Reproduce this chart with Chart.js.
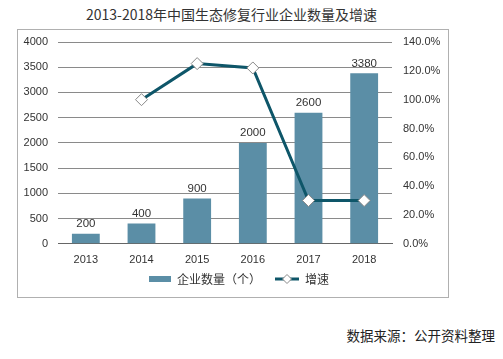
<!DOCTYPE html>
<html>
<head>
<meta charset="utf-8">
<script src="https://cdn.jsdelivr.net/npm/chart.js@4"></script>
<style>
  body { margin: 0; background: #fff; width: 503px; height: 359px; position: relative; overflow: hidden; }
  #title { position: absolute; top: 4px; left: 0; width: 463px; text-align: center; font: 14px "Noto Sans CJK SC", sans-serif; color: #333; }
  #frame { position: absolute; left: 17px; top: 29px; width: 430px; height: 267px; border: 1px solid #b0b0b0; }
  #source { position: absolute; top: 325px; right: 8px; font: 13.5px "Noto Sans CJK SC", sans-serif; color: #222; }
</style>
</head>
<body>
<div id="title">2013-2018年中国生态修复行业企业数量及增速</div>
<div id="frame"><canvas id="myChart" width="430" height="267"></canvas></div>
<div id="source">数据来源：公开资料整理</div>
<script>
const years = ['2013', '2014', '2015', '2016', '2017', '2018'];
const companyCount = [200, 400, 900, 2000, 2600, 3380];
const growthRate = [null, 100, 125, 122, 30, 30];

const barColor = '#5b8ea6';
const lineColor = '#0e5669';

// legend swatches, same canvas width so spacing works out
function barSwatch() {
    const c = document.createElement('canvas');
    c.width = 34; c.height = 6;
    const g = c.getContext('2d');
    g.fillStyle = barColor;
    g.fillRect(12, 0, 22, 6);
    return c;
}
function lineSwatch() {
    const c = document.createElement('canvas');
    c.width = 34; c.height = 12;
    const g = c.getContext('2d');
    g.strokeStyle = lineColor;
    g.lineWidth = 3;
    g.beginPath(); g.moveTo(10, 6); g.lineTo(34, 6); g.stroke();
    g.fillStyle = '#fff';
    g.strokeStyle = '#888';
    g.lineWidth = 1;
    g.beginPath(); g.moveTo(22, 1.5); g.lineTo(26.5, 6); g.lineTo(22, 10.5); g.lineTo(17.5, 6); g.closePath();
    g.fill(); g.stroke();
    return c;
}

const barLabels = {
    id: 'barLabels',
    afterDatasetsDraw(chart) {
        const ctx = chart.ctx;
        const meta = chart.getDatasetMeta(1);
        ctx.save();
        ctx.font = '11.5px "Liberation Sans", Arial, sans-serif';
        ctx.fillStyle = '#333';
        ctx.textAlign = 'center';
        ctx.textBaseline = 'bottom';
        meta.data.forEach((bar, i) => {
            ctx.fillText(companyCount[i], bar.x, bar.y - 4);
        });
        ctx.restore();
    }
};

const tickFont = { family: '"Liberation Sans", Arial, sans-serif', size: 11 };

const ctx = document.getElementById('myChart').getContext('2d');
const chart = new Chart(ctx, {
    type: 'bar',
    data: {
        labels: years,
        datasets: [{
            type: 'line',
            label: '增速',
            data: growthRate,
            yAxisID: 'y1',
            borderColor: lineColor,
            borderWidth: 3,
            pointStyle: 'rectRot',
            pointRadius: 6,
            pointBackgroundColor: '#fff',
            pointBorderColor: '#888',
            pointBorderWidth: 1,
            order: 0
        }, {
            label: '企业数量（个）',
            data: companyCount,
            backgroundColor: barColor,
            barPercentage: 0.5,
            categoryPercentage: 1,
            yAxisID: 'y',
            order: 1
        }]
    },
    options: {
        responsive: false,
        animation: false,
        layout: { autoPadding: false, padding: { top: 12, left: 0, right: 0, bottom: 2 } },
        plugins: {
            tooltip: { enabled: false },
            legend: {
                position: 'bottom',
                labels: {
                    usePointStyle: true,
                    pointStyleWidth: 34,
                    color: '#333',
                    font: { family: '"Noto Sans CJK SC", sans-serif', size: 12 },
                    padding: 4,
                    generateLabels(chart) {
                        return [
                            { text: '企业数量（个）', pointStyle: barSwatch(), fontColor: '#333', datasetIndex: 1, lineWidth: 0 },
                            { text: '增速', pointStyle: lineSwatch(), fontColor: '#333', datasetIndex: 0, lineWidth: 0 }
                        ];
                    }
                }
            }
        },
        scales: {
            x: {
                grid: { display: false },
                border: { color: '#666' },
                ticks: { color: '#333', font: tickFont, padding: 2 }
            },
            y: {
                position: 'left',
                min: 0, max: 4000,
                ticks: { stepSize: 500, color: '#333', font: tickFont, padding: 10, callback: v => String(v) },
                grid: { color: '#8a8a8a', drawTicks: false },
                border: { display: false },
                afterFit(scale) { scale.width = 40; scale.paddingTop = 0; scale.paddingBottom = 0; }
            },
            y1: {
                position: 'right',
                min: 0, max: 140,
                ticks: {
                    stepSize: 20, color: '#333', font: tickFont, padding: 11,
                    callback: v => v.toFixed(1) + '%'
                },
                grid: { display: false, drawTicks: false },
                border: { display: false },
                afterFit(scale) { scale.width = 56; scale.paddingTop = 0; scale.paddingBottom = 0; }
            }
        }
    },
    plugins: [barLabels]
});
</script>
</body>
</html>
